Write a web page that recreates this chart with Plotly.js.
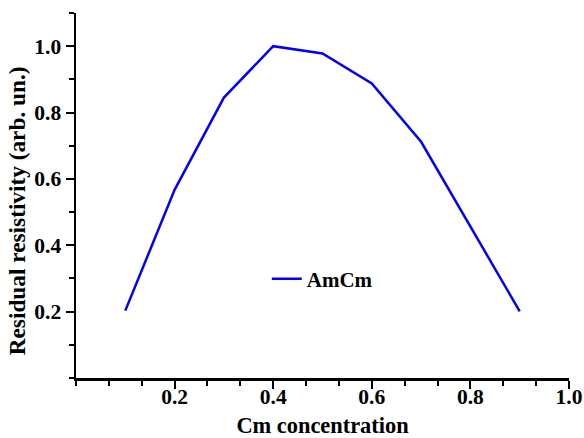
<!DOCTYPE html>
<html>
<head>
<meta charset="utf-8">
<script src="https://cdn.plot.ly/plotly-3.0.1.min.js"></script>
<style>html,body{margin:0;padding:0;background:#fff;}#chart{width:584px;height:438px;}</style>
</head>
<body>
<div id="chart"></div>
<script>
const concentration = [0.1, 0.2, 0.3, 0.4, 0.5, 0.6, 0.7, 0.8, 0.9];
const resistivity = [0.203, 0.567, 0.845, 1.0, 0.978, 0.888, 0.712, 0.458, 0.201];
const seriesName = 'AmCm';
const xTickVals = [0.2, 0.4, 0.6, 0.8, 1.0];
const xTickText = ['0.2', '0.4', '0.6', '0.8', '1.0'];
const yTickVals = [0.2, 0.4, 0.6, 0.8, 1.0];
const yTickText = ['0.2', '0.4', '0.6', '0.8', '1.0'];
const xTitle = 'Cm concentration';
const yTitle = 'Residual resistivity (arb. un.)';

const fontFam = '"Liberation Serif", "Times New Roman", serif';
const axisCommon = {
  showgrid: false, zeroline: false, showline: true, linecolor: '#000', linewidth: 2.5,
  ticks: 'outside', ticklen: 8, tickwidth: 2, tickcolor: '#000',
  tickfont: {family: fontFam, size: 21.5, color: '#000', weight: 'bold'},
  mirror: false
};
const layout = {
  width: 584, height: 438,
  margin: {l: 76, r: 15, t: 13, b: 60},
  paper_bgcolor: '#fff', plot_bgcolor: '#fff',
  showlegend: true,
  legend: {x: 0.387, y: 0.271, xanchor: 'left', yanchor: 'middle', bgcolor: 'rgba(0,0,0,0)',
           font: {family: fontFam, size: 21, color: '#000', weight: 'bold'}},
  xaxis: Object.assign({}, axisCommon, {
    range: [0, 1.0], tickmode: 'array', tickvals: xTickVals, ticktext: xTickText,
    ticklabelstandoff: -10,
    minor: {tick0: 0, dtick: 0.2/3, ticks: 'outside', ticklen: 5, tickwidth: 2, tickcolor: '#000', showgrid: false},
    title: {text: xTitle, standoff: 9, font: {family: fontFam, size: 22.4, color: '#000', weight: 'bold'}}
  }),
  yaxis: Object.assign({}, axisCommon, {
    range: [0, 1.1], tickmode: 'array', tickvals: yTickVals, ticktext: yTickText,
    minor: {tick0: 0, dtick: 0.1, ticks: 'outside', ticklen: 5, tickwidth: 2, tickcolor: '#000', showgrid: false}
  }),
  annotations: [{
    text: yTitle, xref: 'paper', yref: 'paper', x: -0.118, y: 0.459,
    xanchor: 'center', yanchor: 'middle', textangle: -90, showarrow: false,
    font: {family: fontFam, size: 23.3, color: '#000', weight: 'bold'}
  }]
};
const data = [{
  x: concentration, y: resistivity, type: 'scatter', mode: 'lines', name: seriesName,
  line: {color: '#0000FF', width: 2.5}
}];
Plotly.newPlot('chart', data, layout, {displayModeBar: false, staticPlot: true});
</script>
</body>
</html>
